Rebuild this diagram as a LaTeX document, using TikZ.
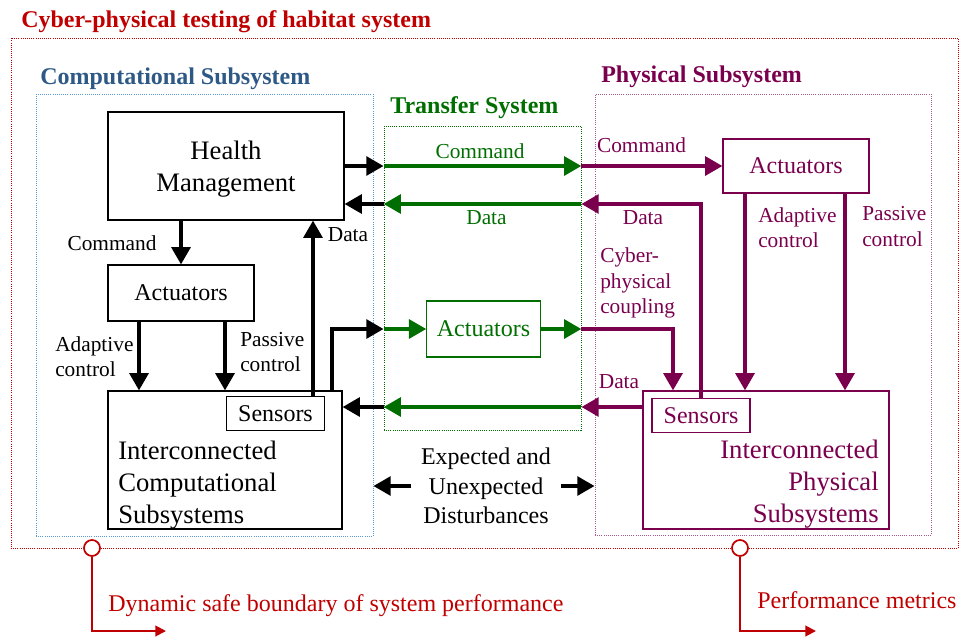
\documentclass[tikz,border=0pt]{standalone}
\usepackage{fontspec}
\setmainfont{Liberation Serif}
\usetikzlibrary{arrows.meta}
\definecolor{cpsred}{RGB}{192,0,0}
\definecolor{compblue}{RGB}{46,89,135}
\definecolor{compline}{RGB}{91,155,213}
\definecolor{trgreen}{RGB}{0,110,0}
\definecolor{phpurple}{RGB}{122,0,78}
\definecolor{phline}{RGB}{170,90,140}
\newcommand{\ttlfont}{\fontsize{18}{22}\selectfont\bfseries}
\newcommand{\boxfont}{\fontsize{20}{24}\selectfont}
\newcommand{\actfont}{\fontsize{18}{22}\selectfont}
\newcommand{\lblfont}{\fontsize{16}{19}\selectfont}
\tikzset{
  grp/.style={draw, densely dotted, line width=0.6pt, inner sep=0pt},
  blockbox/.style={draw, line width=0.8pt, inner sep=0pt, font=\actfont},
  lbl/.style={inner sep=0pt, font=\lblfont, align=left},
  ttl/.style={anchor=base west, inner sep=0pt, font=\ttlfont},
  flow/.style={line width=3pt, -{Triangle[length=13pt,width=14pt]}},
  carrow/.style={flow, black},
  tarrow/.style={flow, trgreen},
  parrow/.style={flow, phpurple},
  redarrow/.style={cpsred, line width=1.5pt, -{Triangle[length=8pt,width=8pt]}},
  marker/.style={circle, draw=cpsred, fill=white, line width=1.3pt, minimum size=12pt, inner sep=0pt}
}
\begin{document}
\begin{tikzpicture}[x=0.75pt,y=-0.75pt]
  \useasboundingbox (0,0) rectangle (960,636);
  % frames
  \node[grp, draw=cpsred, minimum width=710.25pt, minimum height=382.5pt] (cps) at (484.5,293) {};
  \node[grp, draw=compline, minimum width=252.75pt, minimum height=331.5pt] (comp) at (204.5,315) {};
  \node[grp, draw=trgreen, minimum width=147.75pt, minimum height=228pt] (tr) at (482.5,278) {};
  \node[grp, draw=phline, minimum width=252pt, minimum height=330.75pt] (phys) at (763,314.5) {};
  % titles
  \node[ttl, cpsred] (cpsttl) at (21,27) {Cyber-physical testing of habitat system};
  \node[ttl, compblue] (compttl) at (40,84) {Computational Subsystem};
  \node[ttl, trgreen] (trttl) at (390,113) {Transfer System};
  \node[ttl, phpurple] (physttl) at (601,82) {Physical Subsystem};
  % computational subsystem
  \node[blockbox, minimum width=177pt, minimum height=81pt] (hm) at (226,166) {};
  \node[font=\boxfont, align=center, inner sep=0pt] (hmtxt) at (226,169) {Health\\Management};
  \node[blockbox, minimum width=109.5pt, minimum height=42pt] (cact) at (181,293) {Actuators};
  \node[blockbox, minimum width=175.5pt, minimum height=103.5pt] (ccomp) at (225,460) {};
  \node[font=\boxfont, align=left, anchor=west, inner sep=0pt] (ccomptxt) at (118,485) {Interconnected\\Computational\\Subsystems};
  \node[blockbox, fill=white, minimum width=74pt, minimum height=25pt] (csens) at (275.5,413.5) {Sensors};
  % transfer system
  \node[blockbox, draw=trgreen, text=trgreen, minimum width=85pt, minimum height=42pt] (tact) at (483.5,329) {Actuators};
  % physical subsystem
  \node[blockbox, draw=phpurple, text=phpurple, minimum width=109.5pt, minimum height=40.5pt] (pact) at (796,166) {Actuators};
  \node[blockbox, draw=phpurple, minimum width=184.5pt, minimum height=103.5pt] (pphys) at (766,460) {};
  \node[font=\boxfont, text=phpurple, align=right, anchor=east, inner sep=0pt] (pphystxt) at (879,484) {Interconnected\\Physical\\Subsystems};
  \node[blockbox, draw=phpurple, text=phpurple, fill=white, minimum width=73.5pt, minimum height=25pt] (psens) at (701,415.5) {Sensors};
  % helper coordinates
  \coordinate (ydat) at (0,204);
  \coordinate (ysen) at (0,407);
  \coordinate (xdat) at (313,0);
  \coordinate (xout) at (332,0);
  \coordinate (xcad) at (139,0);
  \coordinate (xcpa) at (225,0);
  \coordinate (xcpl) at (673,0);
  \coordinate (xpad) at (745,0);
  \coordinate (xppa) at (845,0);
  % command path
  \draw[carrow] (hm.east) -- (hm.east -| tr.west);
  \draw[tarrow] (hm.east -| tr.west) -- (hm.east -| tr.east);
  \draw[parrow] (hm.east -| tr.east) -- (pact.west);
  % data path (top)
  \draw[parrow] (psens.north) |- (tr.east |- ydat);
  \draw[tarrow] (tr.east |- ydat) -- (tr.west |- ydat);
  \draw[carrow] (tr.west |- ydat) -- (hm.east |- ydat);
  % inside computational
  \draw[carrow] (hm.south -| cact.north) -- (cact.north);
  \draw[carrow] (cact.south -| xcad) -- (ccomp.north -| xcad);
  \draw[carrow] (cact.south -| xcpa) -- (ccomp.north -| xcpa);
  \draw[carrow] (csens.north -| xdat) -- (hm.south -| xdat);
  % coupling path
  \draw[carrow] (ccomp.north -| xout) |- (tr.west |- tact);
  \draw[tarrow] (tr.west |- tact) -- (tact.west);
  \draw[tarrow] (tact.east) -- (tr.east |- tact);
  \draw[parrow] (tr.east |- tact) -| (pphys.north -| xcpl);
  % inside physical
  \draw[parrow] (pact.south -| xpad) -- (pphys.north -| xpad);
  \draw[parrow] (pact.south -| xppa) -- (pphys.north -| xppa);
  % data path (bottom)
  \draw[parrow] (pphys.west |- ysen) -- (tr.east |- ysen);
  \draw[tarrow] (tr.east |- ysen) -- (tr.west |- ysen);
  \draw[carrow] (tr.west |- ysen) -- (ccomp.east |- ysen);
  % labels
  \node[lbl] (lcmd) at (112,243) {Command};
  \node[lbl] (ldat) at (348,235) {Data};
  \node[lbl, anchor=west] (lcad) at (55,357) {Adaptive\\control};
  \node[lbl, anchor=west] (lcpa) at (240,352) {Passive\\control};
  \node[lbl, trgreen] (ltcmd) at (480,151) {Command};
  \node[lbl, trgreen] (ltdat) at (486.5,218) {Data};
  \node[lbl, phpurple] (lpcmd) at (641.5,145) {Command};
  \node[lbl, phpurple] (lpdat) at (643,218) {Data};
  \node[lbl, phpurple, anchor=west] (lcpl) at (600,283) {Cyber-\\physical\\coupling};
  \node[lbl, phpurple] (lpsen) at (619,382) {Data};
  \node[lbl, phpurple, anchor=west] (lpad) at (758,227.5) {Adaptive\\control};
  \node[lbl, phpurple, anchor=west] (lppa) at (862,226.5) {Passive\\control};
  % disturbances
  \node[font=\actfont, align=center, inner xsep=7pt, inner ysep=0pt] (dist) at (486,486) {Expected and\\Unexpected\\Disturbances};
  \draw[carrow] (dist.west) -- (comp.east |- dist);
  \draw[carrow] (dist.east) -- (phys.west |- dist);
  % performance markers
  \node[marker] (bnd) at (92,548) {};
  \node[marker] (met) at (740,548) {};
  \coordinate (bndend) at (166,631);
  \coordinate (metend) at (816,631);
  \draw[redarrow] (bnd.south) |- (bndend);
  \draw[redarrow] (met.south) |- (metend);
  \node[anchor=west, inner sep=0pt, font=\actfont, text=cpsred] (bndtxt) at (108,606) {Dynamic safe boundary of system performance};
  \node[anchor=west, inner sep=0pt, font=\actfont, text=cpsred] (mettxt) at (757,600) {Performance metrics};
\end{tikzpicture}
\end{document}
